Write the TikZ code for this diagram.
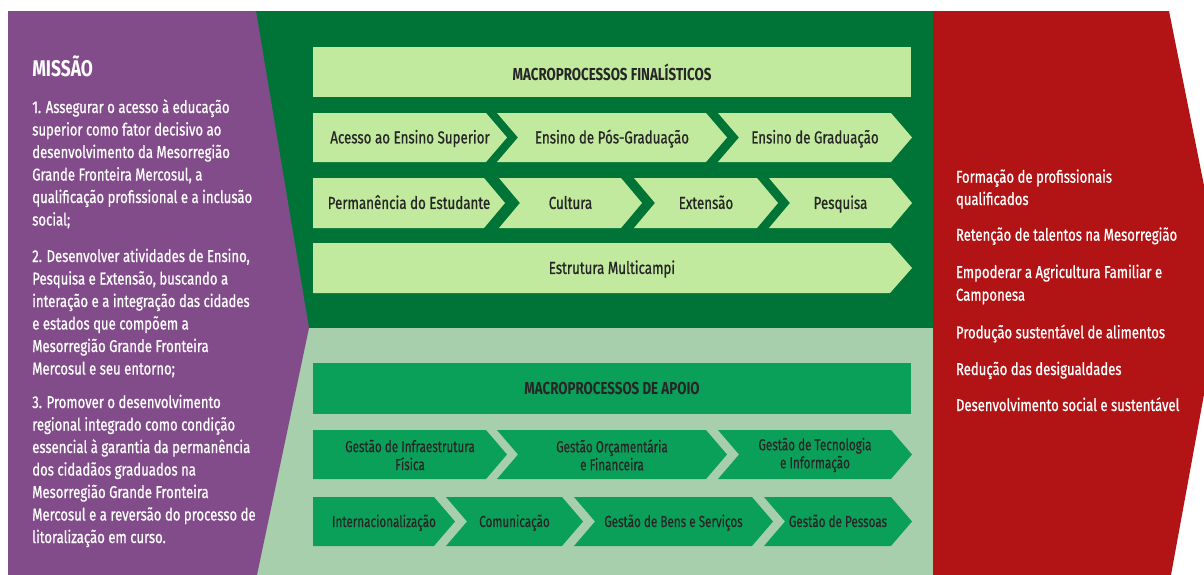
\documentclass[tikz,border=0pt]{standalone}
\usepackage{fontspec}
\setmainfont{Fira Sans}[FakeStretch=0.77]
\newfontfamily\medfont{Fira Sans}[FakeStretch=0.77,FakeBold=0.8]
\newfontfamily\apofont{Fira Sans}[FakeStretch=0.73,FakeBold=0.5]
\definecolor{msnbg}{HTML}{824C8A}
\definecolor{finbg}{HTML}{007436}
\definecolor{finbx}{HTML}{C1EA9E}
\definecolor{apobg}{HTML}{A8CFAC}
\definecolor{apobx}{HTML}{0BA05A}
\definecolor{resbg}{HTML}{B21416}
\colorlet{boxtx}{black!85}
\tikzset{pxp/.style={
  x=0.75pt,
  y=-0.75pt
}}
\tikzset{hdn/.style={
  font=\bfseries\fontsize{13}{15}\selectfont,
  text=boxtx,
  inner sep=0pt,
  minimum width=448.5pt,
  minimum height=37.7pt
}}
\tikzset{fhd/.style={hdn,fill=finbx}}
\tikzset{ahd/.style={hdn,fill=apobx}}
\tikzset{fcn/.style={
  font=\medfont\fontsize{13}{15}\selectfont,
  text=boxtx,
  inner sep=0pt,
  text height=8.9pt,
  text depth=0pt
}}
\tikzset{acn/.style={
  font=\apofont\fontsize{12}{13.5}\selectfont,
  text=boxtx,
  align=center,
  inner sep=0pt
}}
\tikzset{acl/.style={acn,text height=8.3pt,text depth=0pt}}
\tikzset{wtx/.style={
  font=\medfont\fontsize{12.8}{15}\selectfont,
  text=white,
  anchor=base west,
  inner sep=0pt
}}

\begin{document}
\begin{tikzpicture}[pxp]
    \useasboundingbox (0,0) rectangle (1204,575);
    \clip (0,0) rectangle (1204,575);

    % Background panels
    \fill[finbg] (250,11) rectangle (933,328);
    \fill[apobg] (250,328) rectangle (933,575);
    \fill[msnbg] (8,11) -- (256,11) -- (309,328) -- (257,575) -- (8,575) -- cycle;
    \fill[resbg] (933,11) -- (1169,11) -- (1224,285) -- (1171,575) -- (933,575) -- cycle;

    % Mission text
    \node[wtx,font=\bfseries\fontsize{17}{19}\selectfont] (msn) at (32,76.7) {MISSÃO};
    \foreach \txt [count=\i from 0] in {{1. Assegurar o acesso à educação},
        {superior como fator decisivo ao}, {desenvolvimento da Mesorregião},
        {Grande Fronteira Mercosul, a}, {qualificação profissional e a inclusão},
        {social;}}
      \node[wtx] (ma\i) at (32,113+22.5*\i) {\txt};
    \foreach \txt [count=\i from 0] in {{2. Desenvolver atividades de Ensino,},
        {Pesquisa e Extensão, buscando a}, {interação e a integração das cidades},
        {e estados que compõem a}, {Mesorregião Grande Fronteira},
        {Mercosul e seu entorno;}}
      \node[wtx] (mb\i) at (32,262+22.5*\i) {\txt};
    \foreach \txt [count=\i from 0] in {{3. Promover o desenvolvimento},
        {regional integrado como condição}, {essencial à garantia da permanência},
        {dos cidadãos graduados na}, {Mesorregião Grande Fronteira},
        {Mercosul e a reversão do processo de}, {litoralização em curso.}}
      \node[wtx] (mc\i) at (32,408+22.5*\i) {\txt};

    % Finalistic macroprocesses
    \node[fhd] (finhd) at (612,72) {MACROPROCESSOS FINALÍSTICOS};
    \foreach \nm/\xl/\xr/\dn/\txt in {acs/313/507/0/{Acesso ao Ensino Superior},
        pos/497/727/21/{Ensino de Pós-Graduação}, grd/718/912/21/{Ensino de Graduação}}{
      \fill[finbx] (\xl,113) -- (\xr-21,113) -- (\xr,137.5) -- (\xr-21,162)
        -- (\xl,162) -- (\xl+\dn,137.5) -- cycle;
      \node[fcn] (\nm) at ({(\xl+\xr)/2},137.5) {\txt};
    }
    \foreach \nm/\xl/\xr/\dn/\txt in {prm/313/505/0/{Permanência do Estudante},
        cul/499/642/21/Cultura, ext/634/778/21/Extensão, psq/769/912/21/Pesquisa}{
      \fill[finbx] (\xl,178) -- (\xr-21,178) -- (\xr,203) -- (\xr-21,228)
        -- (\xl,228) -- (\xl+\dn,203) -- cycle;
      \node[fcn] (\nm) at ({(\xl+\xr)/2},203) {\txt};
    }
    \fill[finbx] (313,243) -- (890,243) -- (912,268) -- (890,293) -- (313,293) -- cycle;
    \node[fcn] (mlc) at (612,268) {Estrutura Multicampi};

    % Support macroprocesses
    \node[ahd] (apohd) at (612,388.5) {MACROPROCESSOS DE APOIO};
    \foreach \nm/\xl/\xr/\dn/\txt in {inf/313/507/0/{Gestão de Infraestrutura\\Física},
        orc/497/727/21/{Gestão Orçamentária\\e Financeira},
        tec/718/912/21/{Gestão de Tecnologia\\e Informação}}{
      \fill[apobx] (\xl,430) -- (\xr-21,430) -- (\xr,454.5) -- (\xr-21,479)
        -- (\xl,479) -- (\xl+\dn,454.5) -- cycle;
      \node[acn] (\nm) at ({(\xl+\xr)/2},455) {\txt};
    }
    \foreach \nm/\xl/\xr/\dn/\txt in {int/313/455/0/Internacionalização,
        com/446/583/21/Comunicação, bns/574/773/21/{Gestão de Bens e Serviços},
        pes/764/912/21/{Gestão de Pessoas}}{
      \fill[apobx] (\xl,497) -- (\xr-21,497) -- (\xr,521.5) -- (\xr-21,546)
        -- (\xl,546) -- (\xl+\dn,521.5) -- cycle;
      \node[acl] (\nm) at ({(\xl+\xr)/2},521.5) {\txt};
    }

    % Results
    \foreach \yb/\txt [count=\i] in {182.7/{Formação de profissionais}, 205/qualificados,
        240.7/{Retenção de talentos na Mesorregião}, 278/{Empoderar a Agricultura Familiar e},
        300.7/Camponesa, 338.3/{Produção sustentável de alimentos},
        375/{Redução das desigualdades}, 411/{Desenvolvimento social e sustentável}}
      \node[wtx] (rs\i) at (955.7,\yb) {\txt};

  \end{tikzpicture}
\end{document}
